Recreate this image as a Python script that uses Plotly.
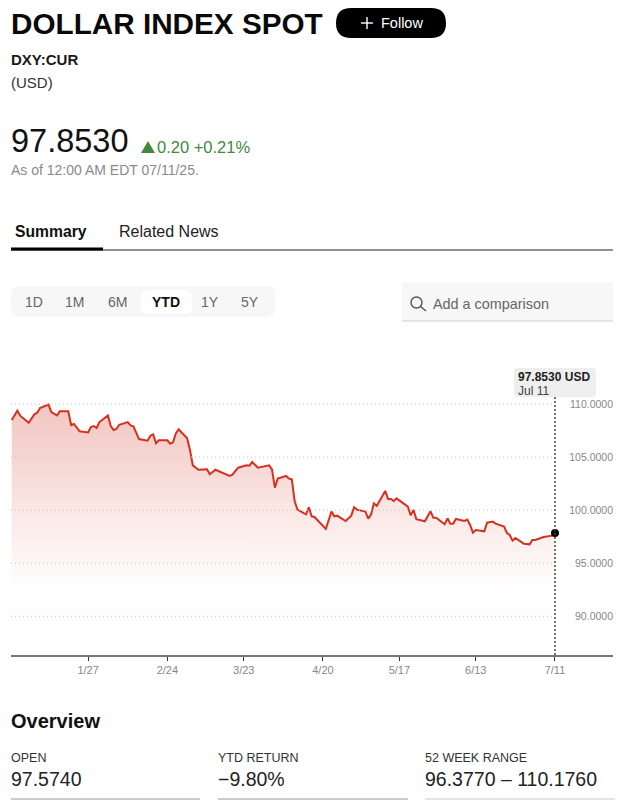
import plotly.graph_objects as go

W, H = 625, 805
FONT = "Liberation Sans"

dates = ['2024-12-31','2025-01-02','2025-01-03','2025-01-06','2025-01-08','2025-01-09','2025-01-10','2025-01-13','2025-01-14','2025-01-16',
         '2025-01-17','2025-01-20','2025-01-21','2025-01-22','2025-01-24','2025-01-27','2025-01-28','2025-01-29','2025-01-30','2025-01-31',
         '2025-02-03','2025-02-04','2025-02-05','2025-02-06','2025-02-07','2025-02-10','2025-02-11','2025-02-12','2025-02-14','2025-02-17',
         '2025-02-18','2025-02-19','2025-02-20','2025-02-21','2025-02-24','2025-02-25','2025-02-26','2025-02-27','2025-02-28','2025-03-03',
         '2025-03-04','2025-03-05','2025-03-07','2025-03-10','2025-03-11','2025-03-13','2025-03-18','2025-03-19','2025-03-21','2025-03-24',
         '2025-03-25','2025-03-26','2025-03-28','2025-04-01','2025-04-02','2025-04-03','2025-04-04','2025-04-07','2025-04-08','2025-04-09',
         '2025-04-10','2025-04-11','2025-04-14','2025-04-15','2025-04-16','2025-04-17','2025-04-21','2025-04-23','2025-04-24','2025-04-25',
         '2025-04-28','2025-04-30','2025-05-01','2025-05-02','2025-05-05','2025-05-06','2025-05-07','2025-05-08','2025-05-09','2025-05-12',
         '2025-05-13','2025-05-14','2025-05-15','2025-05-16','2025-05-20','2025-05-21','2025-05-22','2025-05-23','2025-05-26','2025-05-28',
         '2025-05-29','2025-05-30','2025-06-02','2025-06-03','2025-06-04','2025-06-05','2025-06-06','2025-06-09','2025-06-10','2025-06-11',
         '2025-06-12','2025-06-13','2025-06-16','2025-06-17','2025-06-19','2025-06-20','2025-06-23','2025-06-24','2025-06-25','2025-06-26',
         '2025-06-27','2025-06-30','2025-07-02','2025-07-03','2025-07-04','2025-07-07','2025-07-10','2025-07-11']
values = [108.49,109.37,108.90,108.24,109.03,109.18,109.62,109.94,109.25,108.93,
          109.31,109.31,108.02,108.12,107.43,107.33,107.83,107.93,107.74,108.30,
          108.93,107.93,107.55,107.65,108.05,108.30,107.99,107.90,106.70,106.55,
          107.02,107.14,106.30,106.58,106.58,106.26,106.39,107.24,107.61,106.77,
          105.67,104.22,103.81,103.85,103.38,103.81,103.22,103.34,104.00,104.22,
          104.19,104.54,104.00,104.22,103.81,102.12,102.97,103.22,102.97,102.90,
          100.83,100.05,99.61,100.27,99.42,99.36,98.23,99.86,99.42,99.48,
          98.98,99.48,100.27,100.05,99.86,99.20,99.61,100.64,100.39,101.81,
          101.05,101.05,100.86,101.11,100.33,99.51,100.02,99.14,98.95,99.89,
          99.29,99.29,98.67,99.23,98.73,98.73,99.17,98.98,99.11,98.60,
          97.88,98.13,98.01,98.82,98.92,98.73,98.45,97.85,97.66,97.13,
          97.38,96.84,96.78,97.19,97.19,97.47,97.60,97.853]

x_tick_dates = ['2025-01-27','2025-02-24','2025-03-23','2025-04-20','2025-05-17','2025-06-13','2025-07-11']
x_tick_labels = ['1/27','2/24','3/23','4/20','5/17','6/13','7/11']
y_ticks = [90, 95, 100, 105, 110]

range_labels = ['1D','1M','6M','YTD','1Y','5Y']
range_x = [34, 74, 117, 166, 210, 250]

overview_heads = ['OPEN','YTD RETURN','52 WEEK RANGE']
overview_vals = ['97.5740','\u22129.80%','96.3770 \u2013 110.1760']
overview_x = [11, 218, 425]
overview_rule_end = [200, 408, 615]


def px(x): return x / W
def py(y): return 1 - y / H


def label(x, y, text, size, color='#111111', anchor='left'):
    fig.add_annotation(xref='paper', yref='paper', x=px(x), y=py(y), text=text, showarrow=False,
                       xanchor=anchor, yanchor='middle', align=anchor, borderpad=0, borderwidth=0,
                       font=dict(family=FONT, size=size, color=color))


def pill(x0, y0, x1, y1, r, color):
    path = (f"M {px(x0+r)} {py(y0)} L {px(x1-r)} {py(y0)} Q {px(x1)} {py(y0)} {px(x1)} {py(y0+r)} "
            f"L {px(x1)} {py(y1-r)} Q {px(x1)} {py(y1)} {px(x1-r)} {py(y1)} L {px(x0+r)} {py(y1)} "
            f"Q {px(x0)} {py(y1)} {px(x0)} {py(y1-r)} L {px(x0)} {py(y0+r)} Q {px(x0)} {py(y0)} {px(x0+r)} {py(y0)} Z")
    fig.add_shape(type='path', xref='paper', yref='paper', path=path, fillcolor=color, line_width=0, layer='below')


def rule(x0, y0, x1, y1, color, width=1):
    fig.add_shape(type='line', xref='paper', yref='paper', x0=px(x0), y0=py(y0), x1=px(x1), y1=py(y1),
                  line=dict(color=color, width=width))


fig = go.Figure()

fig.add_trace(go.Scatter(x=dates, y=values, mode='lines', fill='tozeroy', hoverinfo='skip',
                         line=dict(color='#d8301f', width=2),
                         fillgradient=dict(type='vertical', start=110, stop=92.5,
                                           colorscale=[[0, '#f2c6c2'], [0.3, '#f6d6d3'], [0.57, '#fae7e5'],
                                                       [0.85, '#fdf6f5'], [1, '#ffffff']])))
fig.add_trace(go.Scatter(x=dates[-1:], y=values[-1:], mode='markers', hoverinfo='skip',
                         marker=dict(color='#000000', size=8)))

# gridlines stop at the last point, so they are shapes and not axis grid
for v in y_ticks:
    fig.add_shape(type='line', xref='x domain', yref='y', x0=0, x1=(555 - 11) / (613 - 11), y0=v, y1=v,
                  line=dict(color='#c4c4c4', width=1, dash='1px,3px'))

fig.add_shape(type='line', xref='x', yref='paper', x0=dates[-1], x1=dates[-1], y0=py(655), y1=py(397),
              line=dict(color='#444444', width=1.5, dash='2px,2px'))

fig.update_layout(
    width=W, height=H, showlegend=False, paper_bgcolor='white', plot_bgcolor='rgba(0,0,0,0)',
    margin=dict(l=0, r=0, t=0, b=0),
    xaxis=dict(domain=[px(11), px(613)], range=['2024-12-30 18:00', '2025-07-31 12:00'], type='date',
               tickvals=x_tick_dates, ticktext=x_tick_labels, showgrid=False, ticks='outside', ticklen=4, tickwidth=1,
               tickcolor='#333333', showline=True, linecolor='#777777', linewidth=1.5, zeroline=False,
               tickfont=dict(family=FONT, size=11, color='#888888')),
    yaxis=dict(domain=[py(655), py(360)], range=[86.35, 114.15], side='right', ticklabelposition='inside',
               ticklabelstandoff=-3, tickvals=y_ticks, tickformat='.4f', showgrid=False, zeroline=False,
               showline=False, ticks='', tickfont=dict(family=FONT, size=10.5, color='#888888')),
)

# header
label(11, 23, '<b>DOLLAR INDEX SPOT</b>', 29.7, '#0a0a0a')
pill(336, 8, 446, 38, 15, '#000000')
rule(361, 23, 373, 23, '#ffffff', 1.4)
rule(367, 17, 367, 29, '#ffffff', 1.4)
label(381, 23, 'Follow', 14.5, '#ffffff')
label(11, 59, '<b>DXY:CUR</b>', 15, '#1a1a1a')
label(11, 82, '(USD)', 15, '#333333')
label(11, 141, '97.8530', 32.5, '#111111')
fig.add_shape(type='path', xref='paper', yref='paper', fillcolor='#3f8a3f', line_width=0,
              path=f"M {px(141)} {py(153)} L {px(155)} {py(153)} L {px(148)} {py(141)} Z")
label(157, 147, '0.20 +0.21%', 16.5, '#3f8a3f')
label(11, 170, 'As of 12:00 AM EDT 07/11/25.', 14, '#8a8a8a')

# tabs
label(15, 231, '<b>Summary</b>', 15.7, '#111111')
label(119, 231, 'Related News', 16, '#222222')
rule(11, 250, 613, 250, '#222222', 1)
rule(11, 249, 103, 249, '#000000', 3)

# range selector and search box
pill(11, 286, 275, 317, 9, '#f7f7f7')
pill(141, 290, 192, 314, 8, '#ffffff')
for lab, x in zip(range_labels, range_x):
    if lab == 'YTD':
        label(x, 302, '<b>YTD</b>', 14, '#111111', 'center')
    else:
        label(x, 302, lab, 14, '#666666', 'center')
pill(402, 282, 613, 321, 1, '#f7f7f7')
rule(402, 321, 613, 321, '#cccccc', 1.2)
fig.add_shape(type='circle', xref='paper', yref='paper', x0=px(411), x1=px(422), y0=py(297), y1=py(308),
              line=dict(color='#555555', width=1.4))
rule(420.5, 306.5, 426, 311, '#555555', 1.4)
label(433, 304, 'Add a comparison', 14.4, '#666666')

# tooltip on the last point
pill(514, 368, 596, 397, 4, '#eeeeee')
label(518, 377, '<b>97.8530 USD</b>', 12, '#222222')
label(518, 391, 'Jul 11', 12, '#444444')

# overview
label(11, 721, '<b>Overview</b>', 20, '#111111')
for head, val, x, x1 in zip(overview_heads, overview_vals, overview_x, overview_rule_end):
    label(x, 758, head, 12.5, '#333333')
    label(x, 779, val, 19.5, '#222222')
    rule(x, 799, x1, 799, '#cccccc', 2 if x < 400 else 1.2)

fig.write_html("out.html", config=dict(displayModeBar=False), post_script="document.body.style.margin='0';")
